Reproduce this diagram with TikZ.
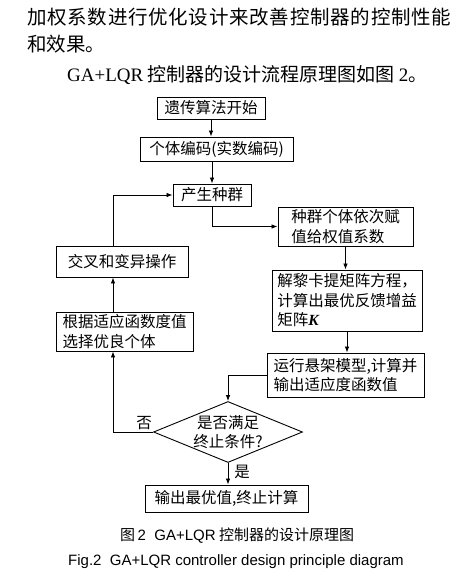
\documentclass[tikz,border=0pt]{standalone}
\usepackage{fontspec}
\setmainfont{Liberation Serif}
\newfontfamily\cjk{Noto Sans CJK SC}
\newfontfamily\arial{Liberation Sans}
\usetikzlibrary{arrows.meta,shapes.geometric}
\begin{document}
\begin{tikzpicture}[x=1pt,y=-1pt,
  box/.style={draw=black, line width=0.9pt, inner sep=0pt, align=left,
    font=\cjk\fontsize{15.5}{19.5}\selectfont},
  conn/.style={draw=black, line width=0.8pt, -{Latex[length=6pt,width=4.5pt]}},
  lbl/.style={inner sep=0pt, font=\cjk\fontsize{15.5}{19.5}\selectfont},
  bodytext/.style={anchor=west, inner sep=0pt, font=\cjk\fontsize{19.5}{19.5}\selectfont}]
\useasboundingbox (0,0) rectangle (474,581);
% running text
\node[bodytext] (t1) at (27,17) {\hbox to 424pt{加\hfil 权\hfil 系\hfil 数\hfil 进\hfil 行\hfil 优\hfil 化\hfil 设\hfil 计\hfil 来\hfil 改\hfil 善\hfil 控\hfil 制\hfil 器\hfil 的\hfil 控\hfil 制\hfil 性\hfil 能}};
\node[bodytext] (t2) at (27,44) {和效果。};
\node[bodytext, font=\cjk\fontsize{19}{19}\selectfont] (t3) at (67,75) {{\rmfamily GA+LQR} 控制器的设计流程原理图如图 {\rmfamily 2}。};
% boxes
\node[box, minimum width=108pt, minimum height=22pt] (b1) at (211,108) {遗传算法开始};
\node[box, minimum width=153pt, minimum height=24pt] (b2) at (216.5,149) {个体编码(实数编码)};
\node[box, minimum width=78pt, minimum height=22pt] (b3) at (212,195) {产生种群};
\node[box, minimum width=135pt, minimum height=39pt] (b4) at (345.5,226.5) {种群个体依次赋\\值给权值系数};
\node[box, minimum width=150pt, minimum height=61pt] (b5) at (347,300.5) {解黎卡提矩阵方程，\\计算出最优反馈增益\\矩阵{\rmfamily\bfseries\itshape K}};
\node[box, minimum width=157pt, minimum height=44pt] (b6) at (345.5,375) {运行悬架模型,计算并\\输出适应度函数值};
\node[diamond, draw=black, line width=0.9pt, minimum width=149pt, minimum height=61pt, inner sep=0pt] (d) at (228,432) {};
\node[lbl, align=center] (dt) at (228,432) {是否满足\\终止条件?};
\node[box, minimum width=163pt, minimum height=27pt] (b7) at (226.5,498.5) {输出最优值,终止计算};
\node[box, minimum width=137pt, minimum height=39pt] (b8) at (124.5,331.5) {根据适应函数度值\\选择优良个体};
\node[box, minimum width=132pt, minimum height=31pt] (b9) at (122,261.5) {交叉和变异操作};
% connectors
\draw[conn] (b1.south) -- (b1.south |- b2.north);
\draw[conn] (b2.south -| b3.north) -- (b3.north);
\draw[conn] (b3.south) |- (b4.west);
\draw[conn] (b4.south) -- (b4.south |- b5.north);
\draw[conn] (b5.south) -- (b5.south |- b6.north);
\draw[conn] (b6.west) -| (d.north);
\draw[conn] (d.south) -- (d.south |- b7.north);
\coordinate (lx) at (113,432);
\draw[conn] (d.west) -| (lx |- b8.south);
\draw[conn] (lx |- b8.north) -- (lx |- b9.south);
\draw[conn] (lx |- b9.north) |- (b3.west);
\node[lbl] (no) at (144,423) {否};
\node[lbl] (yes) at (242,472) {是};
% captions
\node[anchor=west, inner sep=0pt, font=\cjk\fontsize{15}{15}\selectfont] (c1) at (120,536) {图\,{\arial 2\ \ GA+LQR} 控制器的设计原理图};
\node[anchor=west, inner sep=0pt, font=\arial\fontsize{15}{15}\selectfont] (c2) at (68,562) {Fig.2\ \ GA+LQR controller design principle diagram};
\end{tikzpicture}
\end{document}
